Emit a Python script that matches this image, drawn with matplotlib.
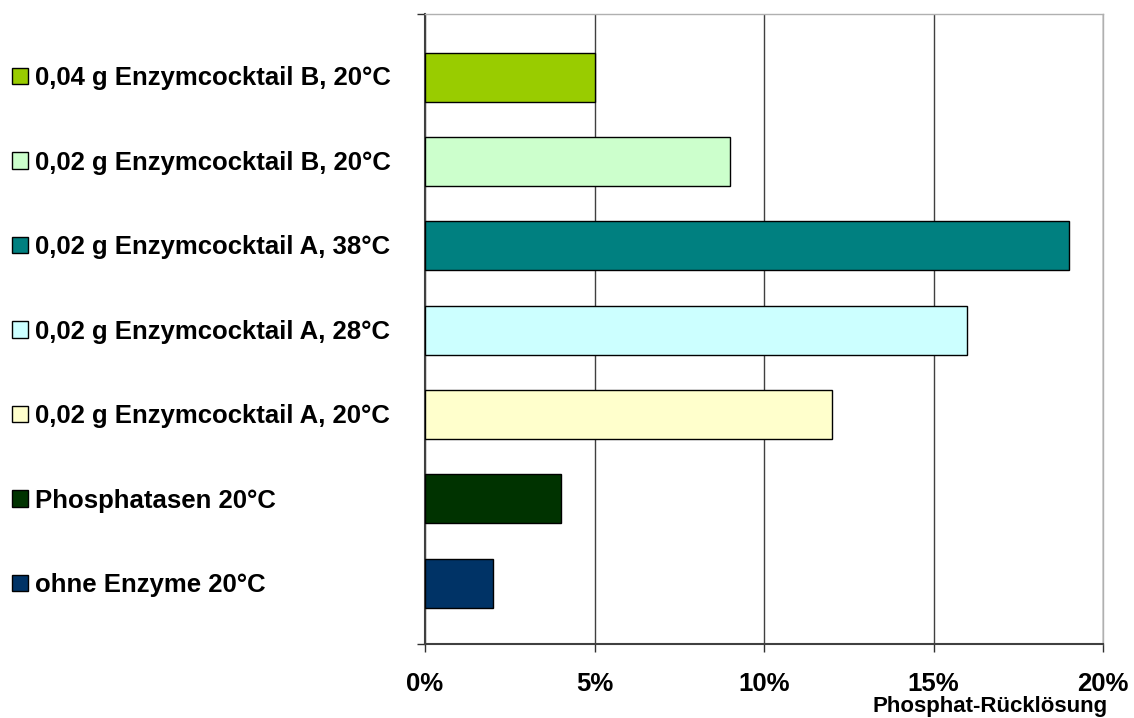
import matplotlib.pyplot as plt
from matplotlib.patches import Patch
from matplotlib.ticker import FuncFormatter

plt.rcParams['font.family'] = ['Liberation Sans', 'DejaVu Sans']

# Versuchsvarianten, von unten nach oben
labels = [
    'ohne Enzyme 20°C',
    'Phosphatasen 20°C',
    '0,02 g Enzymcocktail A, 20°C',
    '0,02 g Enzymcocktail A, 28°C',
    '0,02 g Enzymcocktail A, 38°C',
    '0,02 g Enzymcocktail B, 20°C',
    '0,04 g Enzymcocktail B, 20°C',
]
values = [2, 4, 12, 16, 19, 9, 5]   # Phosphat-Rücklösung in %
colors = ['#003366', '#003300', '#FFFFCC', '#CCFFFF', '#008080', '#CCFFCC', '#99CC00']
xticks = [0, 5, 10, 15, 20]

FS = 18.5

fig = plt.figure(figsize=(11.34, 7.18), dpi=100)
ax = fig.add_axes([425 / 1134, 74 / 718, 678 / 1134, 630 / 718])

ypos = list(range(len(values)))
ax.barh(ypos, values, height=0.58, color=colors, edgecolor='black',
        linewidth=1.0, zorder=3)

ax.set_xlim(0, 20)
ax.set_ylim(-0.72, 6.75)
ax.set_xticks(xticks)
ax.xaxis.set_major_formatter(FuncFormatter(lambda v, p: f'{v:.0f}%'))
ax.set_yticks([-0.72, 6.75])
ax.set_yticklabels([])
ax.tick_params(axis='x', direction='out', length=6, width=1, color='#303030',
               pad=14.5, labelsize=FS)
ax.tick_params(axis='y', direction='out', length=6, width=1, color='#303030')
for lbl in ax.get_xticklabels():
    lbl.set_fontweight('bold')

ax.grid(axis='x', color='#404040', linewidth=1.0, zorder=0)
ax.spines['left'].set_color('#404040')
ax.spines['left'].set_linewidth(1.5)
ax.spines['bottom'].set_color('#404040')
ax.spines['bottom'].set_linewidth(1.5)
ax.spines['top'].set_color('#B0B0B0')
ax.spines['right'].set_color('#B0B0B0')
ax.spines['top'].set_linewidth(1.0)
ax.spines['right'].set_linewidth(1.0)

handles = [Patch(facecolor=c, edgecolor='black', linewidth=1.0)
           for c in colors[::-1]]
fig.legend(handles, labels[::-1], loc='upper left',
           bbox_to_anchor=(12 / 1134, 1 - 66 / 718),
           frameon=False, prop={'weight': 'bold', 'size': FS},
           handlelength=0.62, handleheight=0.62, handletextpad=0.27,
           labelspacing=2.355, borderaxespad=0, borderpad=0)

fig.text(1108 / 1134, 1 - 712 / 718, 'Phosphat-Rücklösung', ha='right',
         va='baseline', fontsize=16, fontweight='bold')

fig.savefig('out.png', dpi=100)
